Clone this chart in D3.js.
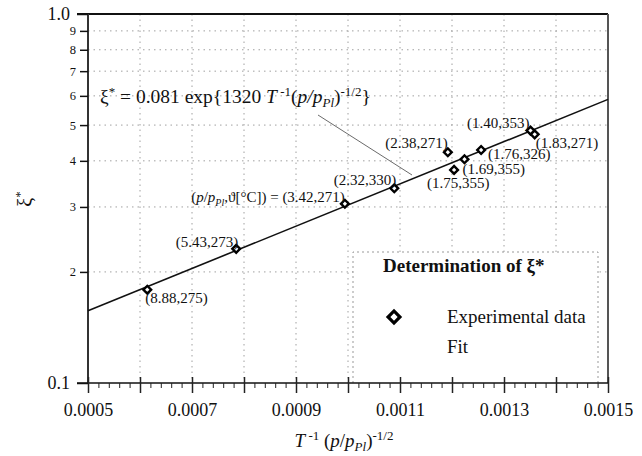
<!DOCTYPE html>
<html>
<head>
<meta charset="utf-8">
<script src="https://cdn.jsdelivr.net/npm/d3@7"></script>
<style>
  html, body { margin: 0; padding: 0; background: #fff; }
  svg { display: block; font-family: "Liberation Serif", "Times New Roman", serif; }
</style>
</head>
<body>
<svg id="chart" width="642" height="456"></svg>
<script>
// ---------- data ----------
const xValues = [0.000614, 0.000785, 0.000994, 0.001089, 0.001192, 0.001204, 0.001224, 0.001256, 0.001351, 0.001359];
const yValues = [0.179, 0.231, 0.306, 0.337, 0.422, 0.378, 0.404, 0.428, 0.483, 0.472];
const pointLabels = ["(8.88,275)", "(5.43,273)", "(3.42,271)", "(2.32,330)", "(2.38,271)", "(1.75,355)", "(1.69,355)", "(1.76,326)", "(1.40,353)", "(1.83,271)"];
const fitX = [0.0005, 0.0015];
const fitY = [0.157, 0.587];
const xMajorTicks = [0.0005, 0.0006, 0.0007, 0.0008, 0.0009, 0.0010, 0.0011, 0.0012, 0.0013, 0.0014, 0.0015];
const xLabelTicks = [0.0005, 0.0007, 0.0009, 0.0011, 0.0013, 0.0015];
const yMajorTicks = [0.1, 1.0];
const yMinorTicks = [0.2, 0.3, 0.4, 0.5, 0.6, 0.7, 0.8, 0.9];
const yMinorLabels = ["2", "3", "4", "5", "6", "7", "8", "9"];
const yMajorLabels = ["0.1", "1.0"];

// ---------- layout (label placement relative to each point) ----------
const labelLayout = [
  {anchor: "start", dx: -2, dy: 13},
  {anchor: "end", dx: 2, dy: -2},
  {anchor: "end", dx: 0, dy: -2},
  {anchor: "end", dx: 2, dy: -3},
  {anchor: "end", dx: 0, dy: -4},
  {anchor: "start", dx: -27, dy: 18},
  {anchor: "start", dx: -2, dy: 15},
  {anchor: "start", dx: 7, dy: 9},
  {anchor: "end", dx: -1, dy: -3},
  {anchor: "start", dx: 1, dy: 14}
];

const svg = d3.select("#chart");
const L = 88, R = 608, T = 14, B = 383;
const x = d3.scaleLinear().domain([0.0005, 0.0015]).range([L, R]);
const y = d3.scaleLog().domain([0.1, 1.0]).range([B, T]);

// grid
const grid = svg.append("g").attr("stroke", "#a0a0a0").attr("stroke-width", 1).attr("stroke-dasharray", "1.5,4");
grid.selectAll("line.v").data(xMajorTicks.slice(1, -1)).join("line")
  .attr("x1", d => x(d)).attr("x2", d => x(d)).attr("y1", T).attr("y2", B);
grid.selectAll("line.h").data(yMinorTicks).join("line")
  .attr("x1", L).attr("x2", R).attr("y1", d => y(d)).attr("y2", d => y(d));

// legend box (drawn before data so it masks grid)
const lg = svg.append("g");
lg.append("rect").attr("x", 353).attr("y", 252).attr("width", 245).attr("height", B - 252)
  .attr("fill", "#fff").attr("stroke", "none");
lg.append("path").attr("d", `M353,${B} V252 H598 V${B}`)
  .attr("fill", "none").attr("stroke", "#999").attr("stroke-width", 1).attr("stroke-dasharray", "2,3");

// frame
svg.append("line").attr("x1", 77).attr("x2", R).attr("y1", T).attr("y2", T).attr("stroke", "#111").attr("stroke-width", 2);
svg.append("line").attr("x1", R).attr("x2", R).attr("y1", T).attr("y2", B).attr("stroke", "#555").attr("stroke-width", 2);
svg.append("line").attr("x1", L).attr("x2", L).attr("y1", T).attr("y2", B).attr("stroke", "#333").attr("stroke-width", 2);
svg.append("line").attr("x1", 77).attr("x2", R).attr("y1", B).attr("y2", B).attr("stroke", "#111").attr("stroke-width", 1.5);

// x axis ticks
const xMinor = d3.range(0, 51).map(i => 0.0005 + i * 0.00002).filter((d, i) => i % 5 !== 0);
svg.append("g").attr("transform", `translate(0,${B})`)
  .call(d3.axisBottom(x).tickValues(xMinor).tickSize(5).tickFormat(""))
  .call(g => g.select(".domain").remove())
  .selectAll("line").attr("stroke", "#222");
svg.append("g").attr("transform", `translate(0,${B})`)
  .call(d3.axisBottom(x).tickValues(xMajorTicks).tickSize(10).tickFormat(""))
  .call(g => g.select(".domain").remove())
  .selectAll("line").attr("stroke", "#222").attr("stroke-width", 1.5).attr("y1", -6);
svg.append("g").attr("transform", `translate(0,${B})`)
  .call(d3.axisBottom(x).tickValues(xLabelTicks).tickSize(0).tickPadding(20).tickFormat(d3.format(".4f")))
  .call(g => g.select(".domain").remove())
  .selectAll("text").attr("font-size", 18).attr("font-family", "Liberation Serif, serif").attr("fill", "#111");

// y axis ticks
svg.append("g").attr("transform", `translate(${L},0)`)
  .call(d3.axisLeft(y).tickValues(yMinorTicks).tickSize(8).tickPadding(4).tickFormat((d, i) => yMinorLabels[i]))
  .call(g => g.select(".domain").remove())
  .call(g => g.selectAll("line").attr("stroke", "#111").attr("stroke-width", 1.5))
  .selectAll("text").attr("font-size", 12.5).attr("font-family", "Liberation Serif, serif").attr("fill", "#111");
svg.append("g").attr("transform", `translate(${L},0)`)
  .call(d3.axisLeft(y).tickValues(yMajorTicks).tickSize(11).tickPadding(7).tickFormat((d, i) => yMajorLabels[i]))
  .call(g => g.select(".domain").remove())
  .call(g => g.selectAll("line").attr("stroke", "#111").attr("stroke-width", 1.5))
  .selectAll("text").attr("font-size", 18).attr("font-family", "Liberation Serif, serif").attr("fill", "#111");

// fit line
svg.append("path").datum(d3.zip(fitX, fitY))
  .attr("d", d3.line().x(d => x(d[0])).y(d => y(d[1])))
  .attr("fill", "none").attr("stroke", "#111").attr("stroke-width", 1.6);

// leader line for equation
svg.append("line").attr("x1", 318).attr("y1", 115).attr("x2", 412).attr("y2", 175)
  .attr("stroke", "#444").attr("stroke-width", 0.8);

// points
const diamond = d3.symbol().type(d3.symbolSquare).size(30);
svg.append("g").selectAll("path").data(xValues).join("path")
  .attr("d", diamond)
  .attr("transform", (d, i) => `translate(${x(d)},${y(yValues[i])}) rotate(45)`)
  .attr("fill", "#fff").attr("stroke", "#000").attr("stroke-width", 2.4);

// point labels
const lbl = svg.append("g").attr("font-size", 15).attr("fill", "#111");
xValues.forEach((xv, i) => {
  const lay = labelLayout[i];
  const t = lbl.append("text")
    .attr("x", x(xv) + lay.dx).attr("y", y(yValues[i]) + lay.dy)
    .attr("text-anchor", lay.anchor);
  if (i === 2) {
    t.append("tspan").text("(");
    t.append("tspan").attr("font-style", "italic").text("p");
    t.append("tspan").text("/");
    t.append("tspan").attr("font-style", "italic").text("p");
    t.append("tspan").attr("font-style", "italic").attr("font-size", 10).attr("dy", 4).text("Pl");
    t.append("tspan").attr("dy", -4).text(",ϑ[°C]) = " + pointLabels[i]);
  } else {
    t.text(pointLabels[i]);
  }
});

// equation
const eq = svg.append("text").attr("x", 100).attr("y", 103).attr("font-size", 19.5).attr("fill", "#111");
eq.append("tspan").text("ξ");
eq.append("tspan").attr("font-size", 13).attr("dy", -7).text("*");
eq.append("tspan").attr("dy", 7).text(" = 0.081 exp{1320 ");
eq.append("tspan").attr("font-style", "italic").text("T");
eq.append("tspan").attr("font-size", 13).attr("dy", -7).text(" -1");
eq.append("tspan").attr("dy", 7).text("(");
eq.append("tspan").attr("font-style", "italic").text("p/p");
eq.append("tspan").attr("font-style", "italic").attr("font-size", 13).attr("dy", 4).text("Pl");
eq.append("tspan").attr("dy", -4).text(")");
eq.append("tspan").attr("font-size", 13).attr("dy", -7).text("-1/2");
eq.append("tspan").attr("dy", 7).text("}");

// x axis title
const xt = svg.append("text").attr("x", 344).attr("y", 447).attr("text-anchor", "middle").attr("font-size", 19).attr("fill", "#111");
xt.append("tspan").attr("font-style", "italic").text("T");
xt.append("tspan").attr("font-size", 13).attr("dy", -7).text(" -1");
xt.append("tspan").attr("dy", 7).text(" (");
xt.append("tspan").attr("font-style", "italic").text("p");
xt.append("tspan").text("/");
xt.append("tspan").attr("font-style", "italic").text("p");
xt.append("tspan").attr("font-style", "italic").attr("font-size", 13).attr("dy", 4).text("Pl");
xt.append("tspan").attr("dy", -4).text(")");
xt.append("tspan").attr("font-size", 13).attr("dy", -7).text("-1/2");

// y axis title
const yt = svg.append("text").attr("transform", "translate(32,199) rotate(-90)")
  .attr("text-anchor", "middle").attr("font-size", 20).attr("fill", "#111");
yt.append("tspan").text("ξ");
yt.append("tspan").attr("font-size", 13).attr("dy", -8).text("*");

// legend contents
lg.append("text").attr("x", 383).attr("y", 272).attr("font-size", 19).attr("font-weight", "bold").attr("fill", "#111")
  .text("Determination of ξ*");
lg.append("path").attr("d", d3.symbol().type(d3.symbolSquare).size(70))
  .attr("transform", "translate(394,317) rotate(45)")
  .attr("fill", "#fff").attr("stroke", "#000").attr("stroke-width", 3.2);
lg.append("text").attr("x", 447).attr("y", 323).attr("font-size", 19).attr("fill", "#111").text("Experimental data");
lg.append("text").attr("x", 447).attr("y", 353).attr("font-size", 19).attr("fill", "#111").text("Fit");
</script>
</body>
</html>
